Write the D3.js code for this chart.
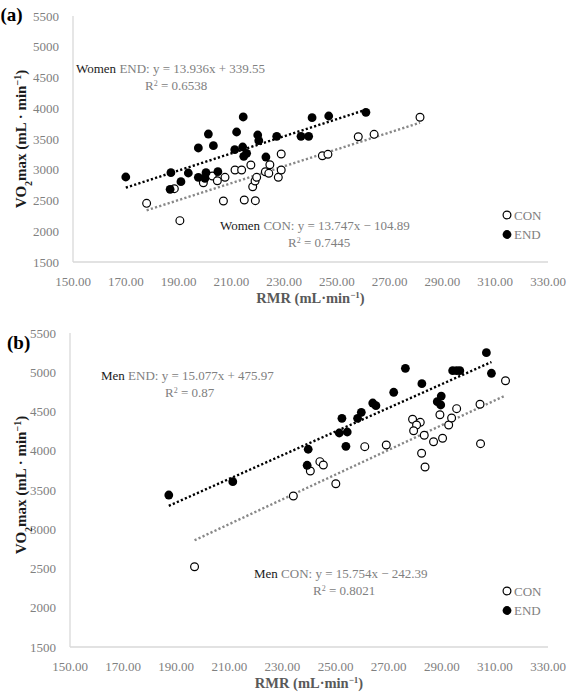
<!DOCTYPE html>
<html>
<head>
<meta charset="utf-8">
<script src="https://cdn.jsdelivr.net/npm/d3@7"></script>
<style>
  body { margin: 0; background: #fff; }
  svg text { font-family: "Palatino Linotype", "Book Antiqua", Palatino, "Liberation Serif", serif; }
</style>
</head>
<body>
<svg id="chart" width="568" height="697"></svg>
<script>
// tick labels
var xTicks = [150, 170, 190, 210, 230, 250, 270, 290, 310, 330];
var yTicks = [1500, 2000, 2500, 3000, 3500, 4000, 4500, 5000, 5500];

// (a) women
var womenConRmr = [177.9, 190.5, 188.4, 199.4, 202.8, 204.7, 207.6, 207.0, 211.4, 213.9, 214.9, 219.1, 217.4, 218.1,
  219.0, 219.6, 222.9, 224.6, 224.2, 227.8, 228.9, 228.9, 244.5, 246.6, 258.1, 264.1, 281.5];
var womenConVo2 = [2454, 2172, 2692, 2789, 2898, 2822, 2877, 2492, 2996, 2996, 2508, 2497, 3077, 2724,
  2817, 2877, 2968, 3082, 2942, 2877, 2996, 3256, 3228, 3251, 3537, 3576, 3853];
var womenEndRmr = [170.0, 187.1, 186.8, 190.9, 193.7, 197.5, 201.3, 203.2, 197.5, 200.4, 200.0, 204.9, 211.3, 212.0,
  214.5, 214.3, 215.8, 214.7, 220.0, 220.4, 223.1, 227.2, 236.4, 239.3, 240.6, 246.9, 261.0];
var womenEndVo2 = [2882, 2952, 2682, 2806, 2947, 3354, 3581, 3391, 2877, 2952, 2861, 2968, 3326, 3614,
  3858, 3370, 3267, 3219, 3565, 3472, 3207, 3544, 3544, 3544, 3846, 3874, 3934];

// (b) men
var menConRmr = [196.9, 234.1, 240.5, 244.1, 245.4, 250.1, 261.0, 269.1, 279.0, 281.9, 280.5, 279.4, 283.4, 282.4,
  283.7, 286.9, 290.3, 289.3, 292.6, 293.7, 295.6, 304.4, 304.6, 314.0];
var menConVo2 = [2523, 3424, 3742, 3861, 3818, 3580, 4052, 4073, 4401, 4362, 4328, 4255, 4197, 3968,
  3793, 4115, 4159, 4459, 4328, 4417, 4536, 4592, 4090, 4892];
var menEndRmr = [187.2, 211.3, 239.7, 239.3, 252.4, 251.4, 254.4, 253.9, 258.3, 259.7, 264.0, 265.2, 271.9, 276.3,
  282.5, 289.8, 288.3, 289.6, 294.1, 295.6, 296.8, 306.8, 308.7];
var menEndVo2 = [3436, 3606, 4019, 3815, 4413, 4226, 4239, 4057, 4413, 4490, 4608, 4574, 4745, 5050,
  4854, 4697, 4625, 4583, 5020, 5020, 5020, 5249, 4987];

// trendline coefficients [slope, intercept] and R2
var womenEndFit = [13.936, 339.55], womenEndR2 = "0.6538";
var womenConFit = [13.747, -104.89], womenConR2 = "0.7445";
var menEndFit = [15.077, 475.97], menEndR2 = "0.87";
var menConFit = [15.754, -242.39], menConR2 = "0.8021";

var svg = d3.select("#chart");
var gray = "#808080";

function fmtFit(f) {
  var b = f[1] < 0 ? " \u2212 " + Math.abs(f[1]).toFixed(2) : " + " + f[1].toFixed(2);
  return ": y = " + f[0].toFixed(3) + "x" + b;
}

function drawPanel(p) {
  var x = d3.scaleLinear().domain([150, 330]).range([p.left, p.right]);
  var y = d3.scaleLinear().domain([1500, 5500]).range([p.bottom, p.top]);
  var g = svg.append("g");

  // axis lines
  g.append("line").attr("x1", p.left).attr("x2", p.left).attr("y1", p.top).attr("y2", p.bottom)
    .attr("stroke", "#d9d9d9").attr("stroke-width", 1.3);
  g.append("line").attr("x1", p.left).attr("x2", p.right).attr("y1", p.bottom).attr("y2", p.bottom)
    .attr("stroke", "#d9d9d9").attr("stroke-width", 1.3);

  // tick labels
  g.selectAll(".xt").data(xTicks).enter().append("text")
    .attr("x", function(d) { return x(d); })
    .attr("y", p.bottom + 24)
    .attr("text-anchor", "middle").attr("font-size", 13).attr("fill", gray)
    .text(function(d) { return d.toFixed(2); });
  g.selectAll(".yt").data(yTicks).enter().append("text")
    .attr("x", p.left - 14)
    .attr("y", function(d) { return y(d) + 4.5; })
    .attr("text-anchor", "end").attr("font-size", 13).attr("fill", gray)
    .text(function(d) { return d; });

  // axis titles
  var xt = g.append("text").attr("x", (p.left + p.right) / 2).attr("y", p.bottom + 41)
    .attr("text-anchor", "middle").attr("font-size", 14.5).attr("font-weight", "bold").attr("fill", "#595959");
  xt.append("tspan").text("RMR (mL\u00b7min");
  xt.append("tspan").attr("baseline-shift", "super").attr("font-size", 9).text("\u22121");
  xt.append("tspan").text(")");

  var yt = g.append("text")
    .attr("transform", "translate(" + p.ytx + "," + p.yty + ") rotate(-90)")
    .attr("text-anchor", "middle").attr("font-size", 15).attr("font-weight", "bold").attr("fill", "#1a1a1a");
  yt.append("tspan").text("VO");
  yt.append("tspan").attr("baseline-shift", "sub").attr("font-size", 10).text("2");
  yt.append("tspan").text("max (mL \u00b7 min");
  yt.append("tspan").attr("baseline-shift", "super").attr("font-size", 10).text("\u22121");
  yt.append("tspan").text(")");

  // panel tag
  g.append("text").attr("x", p.tagX).attr("y", p.tagY).attr("font-size", 19).attr("font-weight", "bold")
    .attr("fill", "#000").text(p.tag);

  // trendlines
  function trend(rmr, fit, color) {
    var ext = d3.extent(rmr);
    g.append("line")
      .attr("x1", x(ext[0])).attr("y1", y(fit[0] * ext[0] + fit[1]))
      .attr("x2", x(ext[1])).attr("y2", y(fit[0] * ext[1] + fit[1]))
      .attr("stroke", color).attr("stroke-width", 2.4).attr("stroke-dasharray", "2.2,2.2");
  }
  trend(p.conRmr, p.conFit, "#888");
  trend(p.endRmr, p.endFit, "#000");

  // points
  g.selectAll(".con").data(d3.zip(p.conRmr, p.conVo2)).enter().append("circle")
    .attr("cx", function(d) { return x(d[0]); }).attr("cy", function(d) { return y(d[1]); })
    .attr("r", 3.9).attr("fill", "#fff").attr("stroke", "#000").attr("stroke-width", 1.2);
  g.selectAll(".end").data(d3.zip(p.endRmr, p.endVo2)).enter().append("circle")
    .attr("cx", function(d) { return x(d[0]); }).attr("cy", function(d) { return y(d[1]); })
    .attr("r", 4.4).attr("fill", "#000");

  // equation labels
  function eqLabel(lx, ly, rx, who, grp, fit, r2) {
    var t = g.append("text").attr("x", lx).attr("y", ly).attr("font-size", 13).attr("fill", gray);
    t.append("tspan").attr("fill", "#1a1a1a").text(who);
    t.append("tspan").text(" " + grp + fmtFit(fit));
    var r = g.append("text").attr("x", rx).attr("y", ly + 17).attr("font-size", 13).attr("fill", gray);
    r.append("tspan").text("R");
    r.append("tspan").attr("baseline-shift", "super").attr("font-size", 8).text("2");
    r.append("tspan").text(" = " + r2);
  }
  eqLabel(p.endLab[0], p.endLab[1], p.endLab[2], p.who, "END", p.endFit, p.endR2);
  eqLabel(p.conLab[0], p.conLab[1], p.conLab[2], p.who, "CON", p.conFit, p.conR2);

  // legend
  var lg = g.append("g");
  lg.append("circle").attr("cx", p.legX).attr("cy", p.legY).attr("r", 3.9)
    .attr("fill", "#fff").attr("stroke", "#000").attr("stroke-width", 1.2);
  lg.append("text").attr("x", p.legX + 7).attr("y", p.legY + 4.5).attr("font-size", 13).attr("fill", gray).text("CON");
  lg.append("circle").attr("cx", p.legX).attr("cy", p.legY + 19.5).attr("r", 4.4).attr("fill", "#000");
  lg.append("text").attr("x", p.legX + 7).attr("y", p.legY + 24).attr("font-size", 13).attr("fill", gray).text("END");
}

drawPanel({
  left: 73, right: 548, top: 16, bottom: 262,
  tag: "(a)", tagX: 0.5, tagY: 21, ytx: 26, yty: 139,
  who: "Women",
  conRmr: womenConRmr, conVo2: womenConVo2, endRmr: womenEndRmr, endVo2: womenEndVo2,
  conFit: womenConFit, endFit: womenEndFit, conR2: womenConR2, endR2: womenEndR2,
  endLab: [76, 73, 145], conLab: [220, 230, 288],
  legX: 507, legY: 215
});

drawPanel({
  left: 70, right: 548, top: 333, bottom: 647,
  tag: "(b)", tagX: 7, tagY: 349, ytx: 26, yty: 485,
  who: "Men",
  conRmr: menConRmr, conVo2: menConVo2, endRmr: menEndRmr, endVo2: menEndVo2,
  conFit: menConFit, endFit: menEndFit, conR2: menConR2, endR2: menEndR2,
  endLab: [101, 380, 165], conLab: [254, 578, 313],
  legX: 507, legY: 591
});
</script>
</body>
</html>
